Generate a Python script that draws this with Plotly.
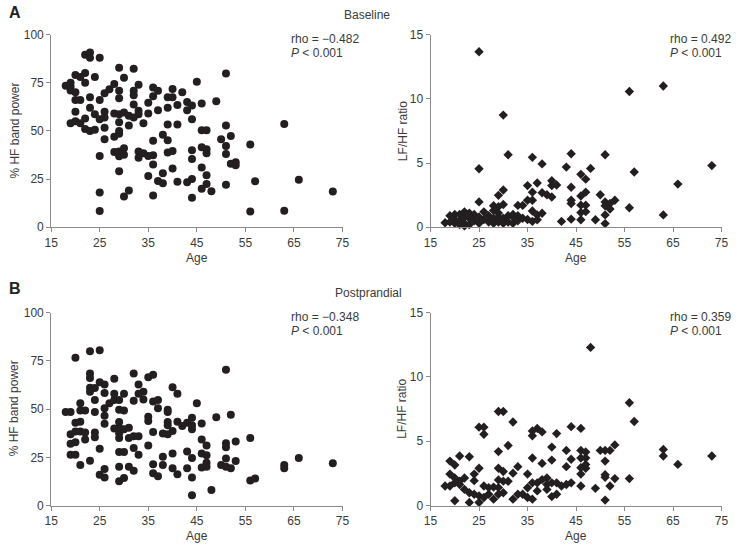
import plotly.graph_objects as go

# ---------------- data ----------------
base_hf_age = [18,
               19, 19, 19, 19,
               20, 20, 20, 20, 20,
               21, 21, 21,
               22, 22, 22, 22, 22,
               23, 23, 23, 23, 23,
               24, 24, 24,
               25, 25, 25, 25, 25, 25,
               26, 26, 26, 26, 26,
               27,
               28, 28, 28, 28,
               29, 29, 29, 29, 29, 29, 29, 29, 29, 29,
               30, 30, 30, 30, 30,
               31, 31, 31,
               32, 32, 32, 32, 32,
               33, 33, 33, 33, 33,
               34, 34,
               35, 35, 35, 35,
               36, 36, 36, 36, 36, 36,
               37, 37, 37,
               38, 38, 38,
               39, 39, 39, 39, 39,
               40, 40, 40, 40,
               41, 41, 41,
               42,
               43, 43, 43,
               44, 44, 44, 44, 44, 44,
               45,
               46, 46, 46, 46, 46,
               47, 47, 47, 47, 47,
               48, 49, 50,
               51, 51, 51, 51, 51,
               52, 52,
               53, 53,
               56, 56, 57,
               63, 63, 66, 73]
base_hf_val = [73.5,
               75, 73, 71, 54,
               79, 70, 66, 60, 55,
               78, 66, 54,
               89.5, 80, 75, 56.5, 51,
               90.7, 88, 67.5, 62, 50,
               78, 58.7, 50.6,
               88, 66, 56, 37, 18, 8.4,
               69.6, 60, 57, 51.6, 45.7,
               71.6,
               74.4, 59, 47, 39,
               82.8, 70.8, 67, 58.7, 54.5, 50, 48.5, 39.3, 36.8, 29,
               77.6, 59.5, 41, 37.6, 16,
               57.8, 52.8, 19,
               82.3, 70.8, 68.5, 63.7, 57,
               73.9, 60.4, 58.7, 39.3, 36,
               54, 38.4,
               64.6, 59, 37, 26.6,
               72.5, 68, 44.9, 37.3, 32.5, 16.5,
               70.8, 60.7, 24,
               48, 28, 22.8,
               67.5, 62, 53.3, 45.2, 38.8,
               71.8, 67.5, 39.6, 30.5,
               63.4, 53.3, 23.6,
               70,
               65, 60.7, 23.3,
               63.2, 56, 40, 35.4, 25, 15.3,
               75.5,
               64.2, 50.3, 41.5, 31, 20,
               50.3, 40.5, 38.4, 27, 22.4,
               18.7, 65.4, 45.7,
               79.8, 52.8, 42.2, 38, 22,
               47.4, 32.9,
               33.7, 32.2,
               43, 8.1, 23.8,
               53.6, 8.6, 24.6, 18.5]

base_lf_age = [18,
               19, 19,
               20, 20, 20,
               21, 21, 21,
               22, 22, 22, 22,
               23, 23, 23,
               24, 24,
               25, 25, 25, 25, 25,
               26, 26,
               27, 27,
               28, 28, 28, 28,
               29, 29, 29, 29, 29,
               30, 30, 30, 30, 30, 30,
               31, 31, 31,
               32, 32, 32,
               33, 33, 33,
               34, 34,
               35, 35, 35,
               36, 36, 36, 36, 36,
               37, 37, 37,
               38, 38, 38,
               39,
               40, 40, 40,
               41, 42, 43,
               44, 44, 44, 44, 44,
               46, 46, 46, 46, 46,
               47, 47, 47, 47,
               48, 49, 50,
               51, 51, 51, 51, 51,
               52, 52, 53,
               56, 56, 57,
               63, 63, 66, 73]
base_lf_val = [0.35,
               0.9, 0.4,
               0.6, 0.3, 1.0,
               1.0, 0.5, 0.2,
               1.2, 0.8, 0.3, 0.1,
               1.1, 0.7, 0.2,
               1.0, 0.5,
               13.66, 4.55, 1.97, 0.8, 0.3,
               1.2, 0.6,
               0.9, 0.4,
               1.67, 1.3, 0.7, 0.3,
               2.48, 1.6, 1.1, 0.8, 0.4,
               8.73, 2.9, 1.77, 0.7, 0.5, 0.3,
               5.64, 0.9, 0.4,
               1.0, 0.8, 0.3,
               1.7, 0.9, 0.5,
               1.7, 0.7,
               3.24, 2.1, 0.6,
               5.44, 2.73, 2.1, 1.26, 0.45,
               3.44, 0.96, 0.58,
               4.93, 2.68, 1.09,
               2.53,
               3.62, 3.24, 2.35,
               3.29, 0.45, 4.68,
               5.72, 3.11, 2.1, 1.85, 0.63,
               4.12, 2.43, 1.72, 1.14, 0.58,
               3.74, 2.73, 1.72, 1.21,
               4.58, 0.58, 2.53,
               5.64, 1.97, 1.67, 0.96, 0.28,
               1.85, 1.42, 2.1,
               10.57, 1.52, 4.3,
               11.0, 0.96, 3.36, 4.8]

post_hf_age = [18,
               19, 19, 19, 19,
               20, 20, 20, 20, 20,
               21, 21, 21, 21, 21,
               22, 22, 22,
               23, 23, 23, 23, 23, 23,
               24, 24, 24, 24, 24,
               25, 25, 25, 25,
               26, 26, 26, 26, 26, 26, 26,
               27,
               28, 28, 28, 28,
               29, 29, 29, 29, 29, 29, 29, 29, 29,
               30, 30, 30, 30, 30,
               31, 31, 31,
               32, 32, 32, 32, 32,
               33, 33, 33, 33,
               34, 34,
               35, 35, 35, 35,
               36, 36, 36, 36, 36,
               37, 37, 37,
               38, 38, 38,
               39, 39, 39, 39, 39,
               40, 40, 40, 40,
               41, 41, 41,
               42,
               43, 43, 43,
               44, 44, 44, 44, 44, 44,
               45,
               46, 46, 46, 46,
               47, 47, 47, 47,
               48, 49, 50,
               51, 51, 51, 51, 51,
               52, 52,
               53, 53,
               56, 56, 57,
               63, 63, 66, 73]
post_hf_val = [48.5,
               48.5, 37, 32, 26.4,
               76.6, 42.9, 38.4, 32.8, 26.4,
               53, 49.3, 43.4, 38.4, 21,
               49.3, 37.9, 34.2,
               80, 68.5, 66.2, 61.1, 59, 23.2,
               61, 54.7, 48.5, 37.9, 35.4,
               80.5, 64, 29.5, 16,
               62.8, 58.4, 50.5, 46.6, 42.4, 19, 14.6,
               53,
               65.7, 58, 54.7, 40,
               54.7, 49.7, 43.3, 40.4, 37.5, 35, 27.8, 20.2, 12.6,
               58, 49.3, 39.6, 27.8, 14.3,
               40.4, 35, 20.2,
               68.5, 54.4, 35.9, 29.8, 18,
               62.8, 58, 35.9, 26.4,
               59, 55,
               66.5, 46, 43.8, 31.1,
               67.8, 53.9, 38.2, 21.4, 16.8,
               54.7, 50.5, 15.2,
               37.4, 25.3, 21,
               49.7, 48.5, 43.3, 41.6, 37,
               61.4, 38.7, 27, 19.4,
               58, 43.4, 16.3,
               41.2,
               42.9, 28.1, 19.4,
               45.5, 41.6, 39.6, 24.7, 14.6, 5.4,
               53,
               42.6, 34.2, 27, 19.7,
               31.1, 26.1, 22.2, 20.2,
               8.1, 45.8, 21,
               70.4, 32.3, 30.3, 24.4, 20.2,
               47.1, 19.4,
               33.2, 23.1,
               35, 13, 14,
               21, 19.4, 24.7, 21.9]

post_lf_age = [18,
               19, 19, 19,
               20, 20, 20, 20,
               21, 21, 21,
               22, 22,
               23, 23, 23,
               24, 24, 24,
               25, 25, 25, 25,
               26, 26, 26, 26,
               27, 27,
               28, 28,
               29, 29, 29, 29, 29, 29,
               30, 30, 30, 30,
               31, 31,
               32, 32, 32,
               33, 33,
               34,
               35, 35, 35,
               36, 36, 36, 36, 36,
               37, 37, 37,
               38, 38, 38,
               39, 39, 39,
               40, 40, 40, 40,
               41, 41, 41,
               42,
               43, 43, 43,
               44, 44, 44,
               46, 46, 46, 46, 46, 46,
               47, 47, 47, 47,
               48, 49, 50,
               51, 51, 51, 51, 51,
               52, 52,
               53, 53,
               56, 56, 57,
               63, 63, 66, 73]
post_lf_val = [1.52,
               3.46, 2.45, 1.52,
               3.16, 2.15, 1.77, 0.38,
               3.86, 1.9, 1.64,
               2.15, 1.26,
               3.8, 1.0, 0.25,
               2.45, 1.94, 0.88,
               6.1, 2.9, 0.76, 0.25,
               6.1, 5.55, 1.52, 0.63,
               1.4, 0.88,
               1.44, 0.5,
               7.32, 4.2, 2.9, 2.0, 1.4, 0.88,
               7.32, 2.65, 1.9, 1.0,
               4.67, 1.89,
               6.5, 2.52, 0.5,
               3.03, 0.88,
               0.88,
               2.45, 1.39, 0.63,
               5.8, 5.43, 3.7, 1.77, 0.5,
               6.0, 1.77, 1.14,
               5.73, 3.28, 2.02,
               2.15, 1.64, 1.26,
               4.55, 3.54, 1.77, 0.7,
               5.6, 1.77, 0.88,
               1.52,
               4.29, 3.03, 1.64,
               6.14, 3.6, 1.77,
               6.0, 4.29, 3.7, 2.95, 2.45, 1.52,
               4.17, 3.7, 3.2, 2.9,
               12.3, 1.34, 4.29,
               4.29, 3.46, 2.4, 2.2, 0.43,
               4.29, 1.52,
               4.72, 2.1,
               8.0, 2.1, 6.54,
               4.37, 3.86, 3.2, 3.86]

x_ticks = [15, 25, 35, 45, 55, 65, 75]
hf_ticks = [0, 25, 50, 75, 100]
lf_ticks = [0, 5, 10, 15]

rho_labels = ["rho = \u22120.482", "rho = 0.492", "rho = \u22120.348", "rho = 0.359"]

# ---------------- figure ----------------
W, H = 740, 547
FONT = "Liberation Sans, Arial, Helvetica, sans-serif"
DOT = "#231f20"
AXC = "#8a8a8a"
TXT = "#3a3a3a"

def px(x):
    return x / W

def py(y):
    return 1 - y / H

fig = go.Figure()
panels = [(base_hf_age, base_hf_val, "circle", 8, "x", "y"),
          (base_lf_age, base_lf_val, "diamond", 7.2, "x2", "y2"),
          (post_hf_age, post_hf_val, "circle", 8, "x3", "y3"),
          (post_lf_age, post_lf_val, "diamond", 7.2, "x4", "y4")]
for ages, vals, sym, sz, xa, ya in panels:
    fig.add_trace(go.Scatter(x=ages, y=vals, mode="markers", xaxis=xa, yaxis=ya,
                             marker=dict(symbol=sym, size=sz, color=DOT, line=dict(width=0)),
                             showlegend=False, cliponaxis=False))

left = [px(45), px(342)]
right = [px(431.7), px(728.3)]
top = [py(226), py(28.3)]
bot = [py(511.7), py(313.7)]

def xax(dom, anchor):
    return dict(domain=dom, anchor=anchor, range=[15, 75], tickvals=x_ticks,
                showline=True, linecolor=AXC, linewidth=1, ticks="outside",
                ticklen=4, tickcolor=AXC, showgrid=False, zeroline=False,
                tickfont=dict(family=FONT, size=12, color=TXT))

def yax(dom, anchor, rng, tv):
    return dict(domain=dom, anchor=anchor, range=rng, tickvals=tv,
                showline=True, linecolor=AXC, linewidth=1, ticks="outside",
                ticklen=4, tickcolor=AXC, showgrid=False, zeroline=False,
                tickfont=dict(family=FONT, size=12, color=TXT))

fig.update_layout(
    width=W, height=H, margin=dict(l=0, r=0, t=0, b=0),
    paper_bgcolor="white", plot_bgcolor="white",
    font=dict(family=FONT, color=TXT),
    xaxis=xax(left, "y"), yaxis=yax(top, "x", [0, 100], hf_ticks),
    xaxis2=xax(right, "y2"), yaxis2=yax(top, "x2", [0, 15], lf_ticks),
    xaxis3=xax(left, "y3"), yaxis3=yax(bot, "x3", [0, 100], hf_ticks),
    xaxis4=xax(right, "y4"), yaxis4=yax(bot, "x4", [0, 15], lf_ticks),
)

ann = []
def text(x, y, t, size=12, angle=0, xanchor="center", color=TXT):
    ann.append(dict(x=px(x), y=py(y), xref="paper", yref="paper", text=t,
                    showarrow=False, xanchor=xanchor, yanchor="middle",
                    textangle=angle, font=dict(family=FONT, size=size, color=color)))

text(0, 6, "<b>A</b>", size=16, xanchor="left", color="#222")
text(0, 289, "<b>B</b>", size=16, xanchor="left", color="#222")
text(367, 8, "Baseline", size=12)
text(368, 293, "Postprandial", size=12)
for ya in (258, 543):
    text(194, ya, "Age", size=12)
    text(580, ya, "Age", size=12)
for yc in (127, 412):
    text(8, yc, "% HF band power", size=12, angle=-90)
    text(403, yc, "LF/HF ratio", size=12, angle=-90)
for t, (x0, y0) in zip(rho_labels, [(287, 33), (674, 33), (287, 318), (674, 318)]):
    text(x0, y0, t, size=12, xanchor="left")
    text(x0, y0 + 14, "<i>P</i> < 0.001", size=12, xanchor="left")

fig.update_layout(annotations=ann)
fig.write_html("out.html")
